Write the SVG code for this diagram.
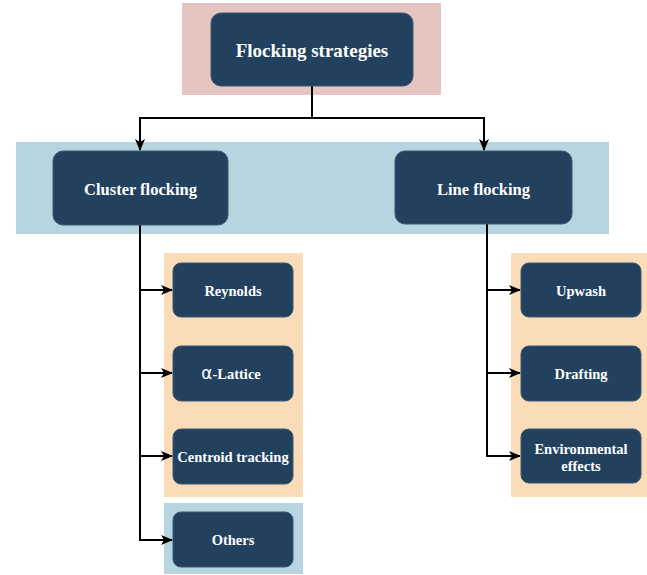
<svg xmlns="http://www.w3.org/2000/svg" width="647" height="575" viewBox="0 0 647 575">
<defs>
<style>
.node{fill:#21415e;stroke:#3a5874;stroke-width:1}
.t{font-family:"Liberation Serif","Times New Roman",serif;font-weight:bold;fill:#ffffff;text-anchor:middle}
.t1{font-size:19px}
.t2{font-size:16.5px}
.t3{font-size:14.5px}
.conn{fill:none;stroke:#000000;stroke-width:2}
</style>
<marker id="arr" markerUnits="userSpaceOnUse" markerWidth="12" markerHeight="12" refX="11" refY="6" orient="auto" viewBox="0 0 12 12">
<path d="M0,1 L12,6 L0,11 L3,6 z" fill="#000000"/>
</marker>
</defs>
<rect width="647" height="575" fill="#ffffff"/>
<g id="backgrounds">
<rect x="182" y="3" width="259" height="92" fill="#e6c4c0"/>
<rect x="16" y="142" width="593" height="92" fill="#b6d5e0"/>
<rect x="164" y="253" width="139" height="244" fill="#fadcb9"/>
<rect x="164" y="503" width="139" height="71" fill="#b6d5e0"/>
<rect x="511" y="253" width="136" height="244" fill="#fadcb9"/>
</g>
<g id="connectors">
<path class="conn" d="M312,86 V118 H140 V150" marker-end="url(#arr)"/>
<path class="conn" d="M312,118 H484 V150" marker-end="url(#arr)"/>
<path class="conn" d="M140,225 V540"/>
<path class="conn" d="M140,290 H172" marker-end="url(#arr)"/>
<path class="conn" d="M140,373 H172" marker-end="url(#arr)"/>
<path class="conn" d="M140,456 H172" marker-end="url(#arr)"/>
<path class="conn" d="M139,540 H172" marker-end="url(#arr)"/>
<path class="conn" d="M487,224 V456"/>
<path class="conn" d="M487,290 H520" marker-end="url(#arr)"/>
<path class="conn" d="M487,373 H520" marker-end="url(#arr)"/>
<path class="conn" d="M486,456 H520" marker-end="url(#arr)"/>
</g>
<g id="node-root">
<rect class="node" x="211" y="13" width="202" height="73" rx="10"/>
<text class="t t1" x="312" y="57">Flocking strategies</text>
</g>
<g id="node-cluster">
<rect class="node" x="53" y="151" width="175" height="74" rx="10"/>
<text class="t t2" x="140.5" y="195">Cluster flocking</text>
</g>
<g id="node-line">
<rect class="node" x="395" y="151" width="177" height="73" rx="10"/>
<text class="t t2" x="483.5" y="195">Line flocking</text>
</g>
<g id="node-reynolds">
<rect class="node" x="173" y="263" width="120" height="54" rx="8"/>
<text class="t t3" x="233" y="296">Reynolds</text>
</g>
<g id="node-lattice">
<rect class="node" x="173" y="346" width="120" height="55" rx="8"/>
<text class="t t3" x="231" y="379"><tspan font-family="'DejaVu Sans',sans-serif" font-weight="normal" font-size="17px">α</tspan>-Lattice</text>
</g>
<g id="node-centroid">
<rect class="node" x="173" y="429" width="120" height="55" rx="8"/>
<text class="t t3" x="233" y="462">Centroid tracking</text>
</g>
<g id="node-others">
<rect class="node" x="173" y="512" width="120" height="55" rx="8"/>
<text class="t t3" x="233" y="545">Others</text>
</g>
<g id="node-upwash">
<rect class="node" x="521" y="263" width="120" height="54" rx="8"/>
<text class="t t3" x="581" y="296">Upwash</text>
</g>
<g id="node-drafting">
<rect class="node" x="521" y="346" width="120" height="55" rx="8"/>
<text class="t t3" x="581" y="379">Drafting</text>
</g>
<g id="node-env">
<rect class="node" x="521" y="429" width="120" height="54" rx="8"/>
<text class="t t3" x="581" y="454">Environmental</text>
<text class="t t3" x="581" y="471">effects</text>
</g>
</svg>
